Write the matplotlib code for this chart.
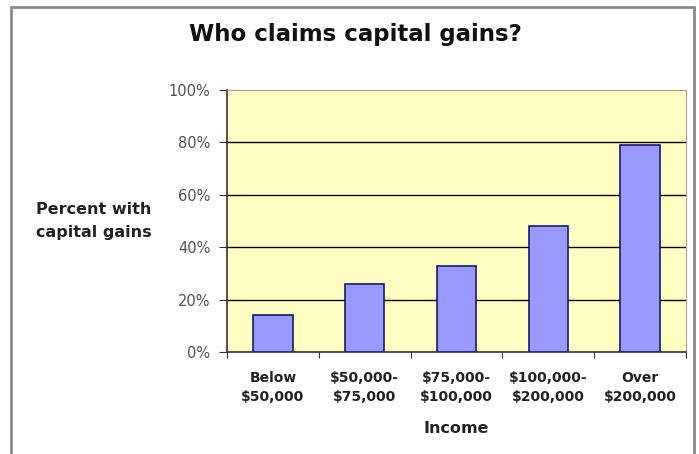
import matplotlib.pyplot as plt
from matplotlib.patches import Rectangle
import numpy as np

plt.rcParams['font.family'] = ['DejaVu Sans']

categories = ['Below\n$50,000', '$50,000-\n$75,000', '$75,000-\n$100,000',
              '$100,000-\n$200,000', 'Over\n$200,000']
percent = [14, 26, 33, 48, 79]
yticks = [0, 20, 40, 60, 80, 100]

fig = plt.figure(figsize=(6.99, 4.54), dpi=100)
ax = fig.add_axes([227 / 699, 102 / 454, 459 / 699, 262 / 454])

# outer chart frame (runs off the bottom of the image)
fig.patches.append(Rectangle((11 / 699, -0.05), 683 / 699, 1.05 - 7 / 454,
                             transform=fig.transFigure, fill=False,
                             edgecolor='#8a8a8a', linewidth=2))

ax.set_facecolor('#ffffc4')
x = np.arange(len(categories))
ax.bar(x, percent, width=0.43, color='#9999ff', edgecolor='#1a1a60',
       linewidth=1.2, zorder=3)

ax.set_xlim(-0.5, len(categories) - 0.5)
ax.set_ylim(0, 100)
ax.set_yticks(yticks)
ax.set_yticklabels([f'{v}%' for v in yticks], fontsize=10.5, color='#505050')
for v in yticks[1:-1]:
    ax.axhline(v, color='black', linewidth=1, zorder=1)

ax.set_xticks(np.arange(-0.5, len(categories), 1.0))
ax.set_xticklabels([])
ax.set_xticks(x, minor=True)
ax.set_xticklabels(categories, minor=True, fontsize=10, fontweight='bold',
                   color='#222222', linespacing=1.45)
ax.tick_params(axis='x', which='minor', length=0, pad=14)
ax.tick_params(axis='x', which='major', length=4, direction='out', color='#333333')
ax.tick_params(axis='y', length=6, direction='out', color='#333333', pad=6)

for side in ['top', 'right']:
    ax.spines[side].set_color('#a0a0a0')
for side in ['left', 'bottom']:
    ax.spines[side].set_color('#333333')
    ax.spines[side].set_linewidth(1.2)

ax.set_xlabel('Income', fontsize=11.5, fontweight='bold', color='#222222', labelpad=12)
fig.text(94 / 699, 1 - 221 / 454, 'Percent with\ncapital gains', ha='center',
         va='center', fontsize=11.5, fontweight='bold', color='#222222',
         linespacing=1.6)
fig.text(355 / 699, 1 - 35 / 454, 'Who claims capital gains?', ha='center',
         va='center', fontsize=16.5, fontweight='bold', color='#111111')

plt.savefig('out.png', dpi=100)
